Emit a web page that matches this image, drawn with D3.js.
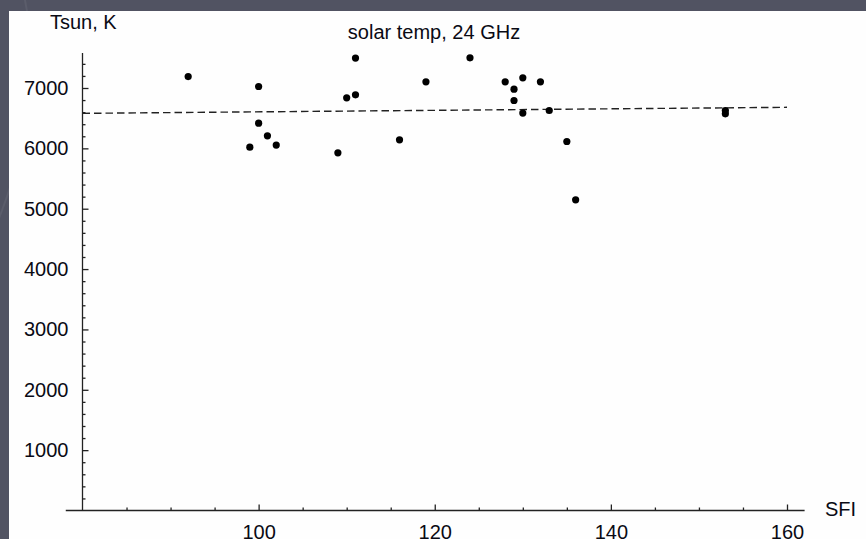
<!DOCTYPE html>
<html>
  <head>
    <style>
      body {
        margin: 0;
        background: #515362;
      }
      svg text {
        font-family: "Liberation Sans", Arial, sans-serif;
        font-size: 20px;
        fill: #0a0a14;
      }
      .dot {
        fill: #000;
      }
      .fit {
        fill: none;
        stroke: #222;
        stroke-width: 1.4;
        stroke-dasharray: 7.5, 4;
      }
      .axis path {
        display: none;
      }
      .axis line {
        stroke: #222;
        stroke-width: 1.3;
      }
      .axis-line {
        stroke: #222;
        stroke-width: 1.3;
      }
    </style>
  </head>
  <body>
    <script src="https://d3js.org/d3.v7.min.js"></script>
    <svg></svg>
    <script>
      // data
      const sfi = [92, 99, 100, 100, 101, 102, 109, 110, 111, 111, 116, 119,
                   124, 128, 129, 129, 130, 130, 132, 133, 135, 136, 153, 153];
      const tsun = [7190, 6020, 7025, 6418, 6208, 6055, 5926, 6837, 6887, 7495, 6141, 7102,
                    7500, 7102, 6981, 6793, 7169, 6584, 7102, 6627, 6114, 5147, 6627, 6572];

      // dashed fit line end points
      const sfiFit = [80, 160];
      const tsunFit = [6580, 6680];

      const xTicks = [100, 120, 140, 160];
      const yTicks = [1000, 2000, 3000, 4000, 5000, 6000, 7000];

      const W = 866, H = 539;

      var svg = d3.select("svg").attr("width", W).attr("height", H);

      // slide background
      svg.append("rect").attr("width", W).attr("height", H).attr("fill", "#515362");
      svg.append("path")
        .attr("d", "M -40 300 Q 60 120 20 -20")
        .attr("fill", "none").attr("stroke", "rgba(255,255,255,0.06)").attr("stroke-width", 2);
      svg.append("rect").attr("x", 9).attr("y", 11).attr("width", W - 9).attr("height", H - 11)
        .attr("fill", "#fefefe");

      var x = d3.scaleLinear().domain([80, 160]).range([82.5, 787]);
      var y = d3.scaleLinear().domain([0, 7000]).range([510.5, 88]);

      // axis lines
      svg.append("line").attr("class", "axis-line")
        .attr("x1", x(78.1)).attr("x2", x(162))
        .attr("y1", y(0)).attr("y2", y(0));
      svg.append("line").attr("class", "axis-line")
        .attr("x1", x(80)).attr("x2", x(80))
        .attr("y1", y(0)).attr("y2", y(7580));

      // minor ticks
      var xMinor = d3.range(85, 160, 5).filter((v) => xTicks.indexOf(v) < 0);
      var yMinor = d3.range(200, 7500, 200).filter((v) => v % 1000 !== 0);

      svg.append("g").attr("class", "axis")
        .attr("transform", `translate(0,${y(0)})`)
        .call(d3.axisBottom(x).tickValues(xMinor).tickSize(-3).tickFormat(""));
      svg.append("g").attr("class", "axis")
        .attr("transform", `translate(${x(80)},0)`)
        .call(d3.axisLeft(y).tickValues(yMinor).tickSize(-3).tickFormat(""));

      // major ticks with labels
      svg.append("g").attr("class", "axis")
        .attr("transform", `translate(0,${y(0)})`)
        .call(d3.axisBottom(x).tickValues(xTicks).tickSize(-6).tickPadding(14).tickFormat(d3.format("d")));
      svg.append("g").attr("class", "axis")
        .attr("transform", `translate(${x(80)},0)`)
        .call(d3.axisLeft(y).tickValues(yTicks).tickSize(-6).tickPadding(14).tickFormat(d3.format("d")));
      svg.selectAll(".axis").attr("font-family", null).attr("font-size", null);

      // fit line
      var line = d3.line()
        .x((d) => x(d[0]))
        .y((d) => y(d[1]));
      svg.append("path")
        .datum(sfiFit.map((v, i) => [v, tsunFit[i]]))
        .attr("class", "fit")
        .attr("d", line);

      // points
      svg.selectAll(".dot")
        .data(sfi.map((v, i) => [v, tsun[i]]))
        .enter()
        .append("circle")
        .attr("class", "dot")
        .attr("cx", (d) => x(d[0]))
        .attr("cy", (d) => y(d[1]))
        .attr("r", 3.6);

      // labels
      svg.append("text").attr("x", 50).attr("y", 29).text("Tsun, K");
      svg.append("text").attr("x", 434).attr("y", 39).attr("text-anchor", "middle")
        .text("solar temp, 24 GHz");
      svg.append("text").attr("x", 825).attr("y", 516).text("SFI");
    </script>
  </body>
</html>
